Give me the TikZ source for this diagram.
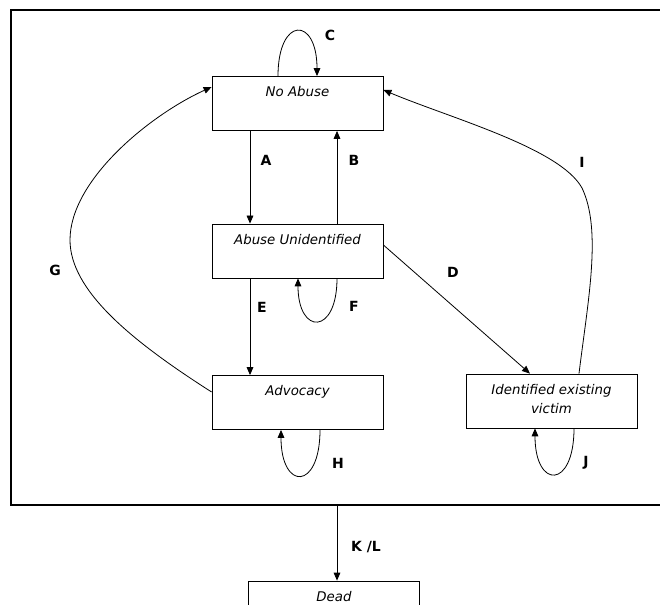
\documentclass[tikz,border=0pt]{standalone}
\usepackage{fontspec}
\setsansfont{DejaVu Sans}
\usetikzlibrary{arrows.meta,calc}

\tikzset{
  state/.style={draw, line width=0.6pt, minimum width=128.25pt, minimum height=40.5pt, inner sep=0pt},
  statetxt/.style={font=\sffamily\itshape\fontsize{10}{14}\selectfont, align=center, anchor=north, yshift=-4.5pt},
  lbl/.style={font=\sffamily\bfseries\fontsize{10.5}{12}\selectfont},
  arr/.style={-{Triangle[length=6pt,width=5pt]}, line width=0.6pt},
}

\begin{document}
\begin{tikzpicture}[x=0.75pt, y=-0.75pt]
\useasboundingbox (0,0) rectangle (660,605);

% Frame round the living states
\draw[line width=0.8pt] (11,10) rectangle (690,505);
\coordinate (framebot) at (337,505);

% States
\node[state, label={[statetxt]north:No Abuse}] (noabuse) at (297.5,103.5) {};
\node[state, label={[statetxt]north:Abuse Unidentified}] (abuseun) at (297.5,251) {};
\node[state, label={[statetxt]north:Advocacy}] (advocacy) at (297.5,402.5) {};
\node[state, label={[statetxt]north:Identified existing\\victim}] (victim) at (551.5,401) {};
\node[state, label={[statetxt]north:Dead}] (dead) at (334,608) {};

% Transitions between states
\draw[arr] ($(noabuse.south)+(-47.5,0)$) -- ($(abuseun.north)+(-47.5,0)$);
\draw[arr] ($(abuseun.north)+(39.5,0)$) -- ($(noabuse.south)+(39.5,0)$);
\draw[arr] ($(abuseun.south)+(-47.5,0)$) -- ($(advocacy.north)+(-47.5,0)$);
\draw[arr] ($(abuseun.east)+(0,-6)$) -- ($(victim.north)+(-21.5,0)$);
\draw[arr] ($(advocacy.west)+(0,-10.5)$) .. controls (130,340) and (70,290) .. (70,240)
  .. controls (70,180) and (150,115) .. ($(noabuse.west)+(0,-16.5)$);
\draw[arr] ($(victim.north)+(27.5,0)$) .. controls (588,300) and (602,230) .. (582,188)
  .. controls (560,148) and (450,118) .. ($(noabuse.east)+(0,-13.5)$);
\draw[arr] (framebot) -- (dead.north -| framebot);

% Self loops
\draw[arr] ($(noabuse.north)+(-19.5,0)$) .. controls +(0,-60) and +(0,-60) .. ($(noabuse.north)+(19.5,0)$);
\draw[arr] ($(abuseun.south)+(39.5,0)$) .. controls +(0,57) and +(0,57) .. ($(abuseun.south)+(0.5,0)$);
\foreach \s in {advocacy, victim} {
    \draw[arr] ($(\s.south)+(22.5,0)$) .. controls +(0,61) and +(0,61) .. ($(\s.south)+(-16.5,0)$);
}

% Transition labels
\foreach \t/\x/\y in {A/266/160, B/354/160, C/330/35, D/453/272, E/262/307, F/354/306,
                      G/55/270, H/338/463, I/582/162, J/586/463} {
    \node[lbl] (l\t) at (\x,\y) {\t};
}
\node[lbl] (lKL) at (366,547) {K /L};
\end{tikzpicture}
\end{document}
